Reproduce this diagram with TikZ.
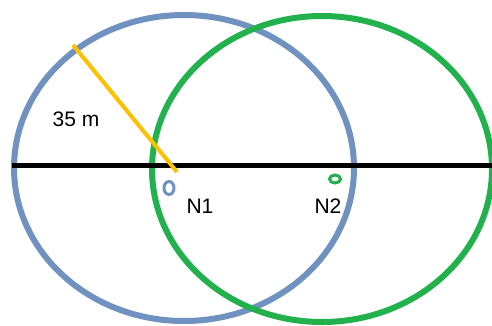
\documentclass[tikz,border=0pt]{standalone}
\usepackage{fontspec}
\setmainfont{Liberation Sans}
\definecolor{cblue}{RGB}{112,146,192}
\definecolor{cgreen}{RGB}{34,177,76}
\definecolor{corange}{RGB}{255,192,0}
\begin{document}
\begin{tikzpicture}[x=1pt,y=-1pt,
  bigring/.style={line width=6pt},
  smallring/.style={line width=3pt},
  lbl/.style={font=\fontsize{21}{24}\selectfont, inner sep=0pt}]
\useasboundingbox (0,0) rectangle (492,325);
\draw[bigring, cblue] (184,168) ellipse [x radius=170, y radius=153];
\draw[bigring, cgreen] (322,169) ellipse [x radius=170, y radius=153];
\coordinate (L) at (12,165.5);
\coordinate (R) at (492,165.5);
\draw[line width=4.5pt, black] (L) -- (R);
\coordinate (rs) at (73,45);
\coordinate (re) at (177,172);
\draw[line width=4pt, corange] (rs) -- (re);
\draw[smallring, cblue] (169,188) ellipse [x radius=5, y radius=6.5];
\draw[smallring, cgreen] (335,179) ellipse [x radius=5.5, y radius=4];
\node[lbl] (d) at (76,119) {35 m};
\node[lbl] (n1) at (200,206) {N1};
\node[lbl] (n2) at (328,206) {N2};
\end{tikzpicture}
\end{document}
